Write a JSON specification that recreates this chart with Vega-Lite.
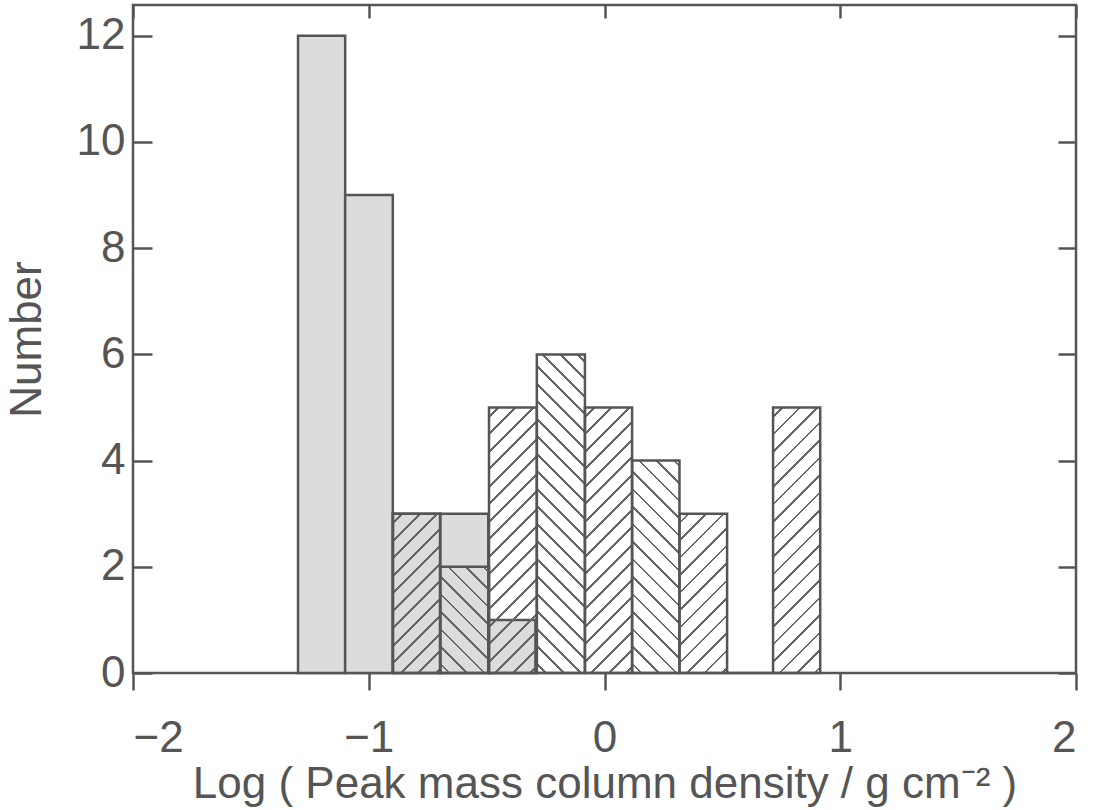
{
  "$schema": "https://vega.github.io/schema/vega-lite/v6.json",
  "width": 943,
  "height": 668,
  "autosize": "none",
  "padding": {"left": 133, "top": 5, "right": 18, "bottom": 137},
  "background": "white",
  "params": [
    {"name": "hatchStops", "value": [
      {"offset": 0, "color": "rgba(102,102,102,0)"},
      {"offset": 0.02, "color": "rgba(102,102,102,0)"}, {"offset": 0.02, "color": "#666"}, {"offset": 0.027, "color": "#666"}, {"offset": 0.027, "color": "rgba(102,102,102,0)"},
      {"offset": 0.06375, "color": "rgba(102,102,102,0)"}, {"offset": 0.06375, "color": "#666"}, {"offset": 0.07075, "color": "#666"}, {"offset": 0.07075, "color": "rgba(102,102,102,0)"},
      {"offset": 0.1075, "color": "rgba(102,102,102,0)"}, {"offset": 0.1075, "color": "#666"}, {"offset": 0.1145, "color": "#666"}, {"offset": 0.1145, "color": "rgba(102,102,102,0)"},
      {"offset": 0.15125, "color": "rgba(102,102,102,0)"}, {"offset": 0.15125, "color": "#666"}, {"offset": 0.15825, "color": "#666"}, {"offset": 0.15825, "color": "rgba(102,102,102,0)"},
      {"offset": 0.195, "color": "rgba(102,102,102,0)"}, {"offset": 0.195, "color": "#666"}, {"offset": 0.202, "color": "#666"}, {"offset": 0.202, "color": "rgba(102,102,102,0)"},
      {"offset": 0.23875, "color": "rgba(102,102,102,0)"}, {"offset": 0.23875, "color": "#666"}, {"offset": 0.24575, "color": "#666"}, {"offset": 0.24575, "color": "rgba(102,102,102,0)"},
      {"offset": 0.2825, "color": "rgba(102,102,102,0)"}, {"offset": 0.2825, "color": "#666"}, {"offset": 0.2895, "color": "#666"}, {"offset": 0.2895, "color": "rgba(102,102,102,0)"},
      {"offset": 0.32625, "color": "rgba(102,102,102,0)"}, {"offset": 0.32625, "color": "#666"}, {"offset": 0.33325, "color": "#666"}, {"offset": 0.33325, "color": "rgba(102,102,102,0)"},
      {"offset": 0.37, "color": "rgba(102,102,102,0)"}, {"offset": 0.37, "color": "#666"}, {"offset": 0.377, "color": "#666"}, {"offset": 0.377, "color": "rgba(102,102,102,0)"},
      {"offset": 0.41375, "color": "rgba(102,102,102,0)"}, {"offset": 0.41375, "color": "#666"}, {"offset": 0.42075, "color": "#666"}, {"offset": 0.42075, "color": "rgba(102,102,102,0)"},
      {"offset": 0.4575, "color": "rgba(102,102,102,0)"}, {"offset": 0.4575, "color": "#666"}, {"offset": 0.4645, "color": "#666"}, {"offset": 0.4645, "color": "rgba(102,102,102,0)"},
      {"offset": 0.50125, "color": "rgba(102,102,102,0)"}, {"offset": 0.50125, "color": "#666"}, {"offset": 0.50825, "color": "#666"}, {"offset": 0.50825, "color": "rgba(102,102,102,0)"},
      {"offset": 0.545, "color": "rgba(102,102,102,0)"}, {"offset": 0.545, "color": "#666"}, {"offset": 0.552, "color": "#666"}, {"offset": 0.552, "color": "rgba(102,102,102,0)"},
      {"offset": 0.58875, "color": "rgba(102,102,102,0)"}, {"offset": 0.58875, "color": "#666"}, {"offset": 0.59575, "color": "#666"}, {"offset": 0.59575, "color": "rgba(102,102,102,0)"},
      {"offset": 0.6325, "color": "rgba(102,102,102,0)"}, {"offset": 0.6325, "color": "#666"}, {"offset": 0.6395, "color": "#666"}, {"offset": 0.6395, "color": "rgba(102,102,102,0)"},
      {"offset": 0.67625, "color": "rgba(102,102,102,0)"}, {"offset": 0.67625, "color": "#666"}, {"offset": 0.68325, "color": "#666"}, {"offset": 0.68325, "color": "rgba(102,102,102,0)"},
      {"offset": 0.72, "color": "rgba(102,102,102,0)"}, {"offset": 0.72, "color": "#666"}, {"offset": 0.727, "color": "#666"}, {"offset": 0.727, "color": "rgba(102,102,102,0)"},
      {"offset": 0.76375, "color": "rgba(102,102,102,0)"}, {"offset": 0.76375, "color": "#666"}, {"offset": 0.77075, "color": "#666"}, {"offset": 0.77075, "color": "rgba(102,102,102,0)"},
      {"offset": 0.8075, "color": "rgba(102,102,102,0)"}, {"offset": 0.8075, "color": "#666"}, {"offset": 0.8145, "color": "#666"}, {"offset": 0.8145, "color": "rgba(102,102,102,0)"},
      {"offset": 0.85125, "color": "rgba(102,102,102,0)"}, {"offset": 0.85125, "color": "#666"}, {"offset": 0.85825, "color": "#666"}, {"offset": 0.85825, "color": "rgba(102,102,102,0)"},
      {"offset": 0.895, "color": "rgba(102,102,102,0)"}, {"offset": 0.895, "color": "#666"}, {"offset": 0.902, "color": "#666"}, {"offset": 0.902, "color": "rgba(102,102,102,0)"},
      {"offset": 0.93875, "color": "rgba(102,102,102,0)"}, {"offset": 0.93875, "color": "#666"}, {"offset": 0.94575, "color": "#666"}, {"offset": 0.94575, "color": "rgba(102,102,102,0)"},
      {"offset": 0.9825, "color": "rgba(102,102,102,0)"}, {"offset": 0.9825, "color": "#666"}, {"offset": 0.9895, "color": "#666"}, {"offset": 0.9895, "color": "rgba(102,102,102,0)"},
      {"offset": 1, "color": "rgba(102,102,102,0)"}
    ]}
  ],
  "config": {
    "view": {"stroke": "#555", "strokeWidth": 2.5},
    "font": "Liberation Sans",
    "axis": {
      "grid": false,
      "domain": false,
      "tickColor": "#555",
      "tickWidth": 2.5,
      "labelFont": "Liberation Sans",
      "labelFontSize": 44,
      "labelColor": "#555",
      "titleFont": "Liberation Sans",
      "titleFontSize": 44,
      "titleFontWeight": "normal",
      "titleColor": "#555"
    }
  },
  "layer": [
    {
      "data": {"values": [
        {"x0": -1.3, "x1": -1.1, "n": 12},
        {"x0": -1.1, "x1": -0.898, "n": 9},
        {"x0": -0.898, "x1": -0.697, "n": 3},
        {"x0": -0.697, "x1": -0.493, "n": 3},
        {"x0": -0.493, "x1": -0.293, "n": 1}
      ]},
      "mark": {"type": "bar", "fill": "#dcdcdc", "stroke": "#555", "strokeWidth": 2.5},
      "encoding": {
        "x": {"field": "x0", "type": "quantitative",
              "scale": {"domain": [-2, 2], "nice": false, "zero": false},
              "axis": {"orient": "bottom", "values": [-2, -1, 0, 1, 2], "tickSize": 17, "labelPadding": 26,
                       "title": "Log ( Peak mass column density / g cm⁻² )", "titlePadding": 2}},
        "x2": {"field": "x1"},
        "y": {"field": "n", "type": "quantitative",
              "scale": {"domain": [0, 12.58], "nice": false},
              "axis": {"orient": "left", "values": [0, 2, 4, 6, 8, 10, 12], "tickSize": -19, "labelPadding": 27,
                       "title": "Number", "titlePadding": 27}},
        "y2": {"datum": 0}
      }
    },
    {
      "data": {"values": [
        {"x0": -0.897, "x1": -0.697, "n": 3},
        {"x0": -0.697, "x1": -0.49, "n": 2},
        {"x0": -0.49, "x1": -0.287, "n": 5},
        {"x0": -0.287, "x1": -0.083, "n": 6},
        {"x0": -0.083, "x1": 0.117, "n": 5},
        {"x0": 0.117, "x1": 0.318, "n": 4},
        {"x0": 0.318, "x1": 0.52, "n": 3},
        {"x0": 0.52, "x1": 0.715, "n": 0},
        {"x0": 0.715, "x1": 0.915, "n": 5}
      ]},
      "mark": {
        "type": "bar",
        "stroke": "#555",
        "strokeWidth": 2.5,
        "fill": {"expr": "{gradient: 'linear', stops: hatchStops, x1: 0, x2: 400*(datum.x1-datum.x0)*235.75/(pow((datum.x1-datum.x0)*235.75,2)+pow(datum.n*53.1,2)), y1: (round((datum.x0+0.9)/0.2)%2==1) ? 1 : 0, y2: (round((datum.x0+0.9)/0.2)%2==1) ? (1-400*datum.n*53.1/(pow((datum.x1-datum.x0)*235.75,2)+pow(datum.n*53.1,2))) : (400*datum.n*53.1/(pow((datum.x1-datum.x0)*235.75,2)+pow(datum.n*53.1,2)))}"}
      },
      "encoding": {
        "x": {"field": "x0", "type": "quantitative",
              "scale": {"domain": [-2, 2], "nice": false, "zero": false},
              "axis": {"orient": "top", "values": [-2, -1, 0, 1, 2], "tickSize": -13, "labels": false, "title": null}},
        "x2": {"field": "x1"},
        "y": {"field": "n", "type": "quantitative",
              "scale": {"domain": [0, 12.58], "nice": false},
              "axis": {"orient": "right", "values": [0, 2, 4, 6, 8, 10, 12], "tickSize": -18, "labels": false, "title": null}},
        "y2": {"datum": 0}
      }
    }
  ],
  "resolve": {"axis": {"x": "independent", "y": "independent"}}
}
